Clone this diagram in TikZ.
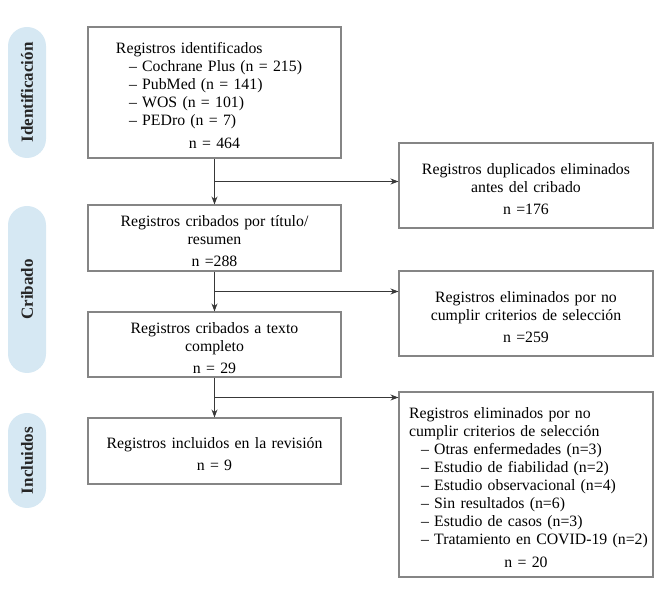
\documentclass[tikz,border=0pt]{standalone}
\usepackage{fontspec}
\setmainfont{Liberation Serif}
\usetikzlibrary{arrows.meta,calc}

\definecolor{pillblue}{HTML}{D6E8F3}
\definecolor{boxgray}{HTML}{858585}
\definecolor{linegray}{HTML}{383838}

\begin{document}
\begin{tikzpicture}[
        x=1pt, y=1pt,
        font=\fontsize{15.8}{18}\selectfont,
        % Cajas del diagrama
        box/.style={
            draw=boxgray,
            line width=1.1pt,
            inner xsep=0pt, inner ysep=0pt,
            text width=253pt,
            align=center,
            execute at begin node={\rule{0pt}{18pt}}
        },
        % Etiquetas laterales de fase
        pill/.style={
            fill=pillblue,
            rounded corners=19pt,
            minimum height=38pt,
            inner sep=0pt,
            rotate=90,
            text=black!85,
            font=\fontsize{17}{18}\selectfont\bfseries
        },
        % Flechas
        flecha/.style={
            draw=linegray,
            line width=0.9pt,
            -{Stealth[length=8pt,width=6pt]}
        }
    ]
        \useasboundingbox (0,0) rectangle (670,591);

        % Fases
        \node[pill, minimum width=131pt] (fase1) at (27,498.5) {Identificación};
        \node[pill, minimum width=167pt] (fase2) at (27,301.5) {Cribado};
        \node[pill, minimum width=95pt]  (fase3) at (27,130.5) {Incluidos};

        % Columna principal
        \node[box, align=left, minimum height=131pt] (ident) at (214.5,498.5) {%
            \hspace*{28pt}Registros identificados\\
            \hspace*{41pt}– Cochrane Plus (n = 215)\\
            \hspace*{41pt}– PubMed (n = 141)\\
            \hspace*{41pt}– WOS (n = 101)\\
            \hspace*{41pt}– PEDro (n = 7)\par
            \vspace{5pt}\centering n = 464\par};
        \node[box, minimum height=66pt] (criba) at (214.5,353) {Registros cribados por título/\\resumen\\[4pt]n =288};
        \node[box, minimum height=65pt] (texto) at (214.5,246.5) {Registros cribados a texto\\completo\\[4pt]n = 29};
        \node[box, minimum height=66pt] (incl) at (214.5,140) {Registros incluidos en la revisión\\[4pt]n = 9};

        % Columna de registros eliminados
        \node[box, text width=254pt, minimum height=85pt] (dupl) at (526,405.5) {Registros duplicados eliminados\\antes del cribado\\[4pt]n =176};
        \node[box, text width=254pt, minimum height=85pt] (elim1) at (526,277.5) {Registros eliminados por no\\cumplir criterios de selección\\[4pt]n =259};
        \node[box, text width=254pt, align=left, minimum height=185pt] (elim2) at (526,106.5) {%
            \hspace*{10pt}Registros eliminados por no\\
            \hspace*{10pt}cumplir criterios de selección\\
            \hspace*{22pt}– Otras enfermedades (n=3)\\
            \hspace*{22pt}– Estudio de fiabilidad (n=2)\\
            \hspace*{22pt}– Estudio observacional (n=4)\\
            \hspace*{22pt}– Sin resultados (n=6)\\
            \hspace*{22pt}– Estudio de casos (n=3)\\
            \hspace*{22pt}– Tratamiento en COVID-19 (n=2)\par
            \vspace{5pt}\centering n = 20\par};

        % Flujo vertical
        \draw[flecha] (ident) -- (criba);
        \draw[flecha] (criba) -- (texto);
        \draw[flecha] (texto) -- (incl);

        % Ramas hacia la derecha
        \coordinate (r1) at ($(ident.south)!0.5!(criba.north)$);
        \coordinate (r2) at ($(criba.south)!0.5!(texto.north)$);
        \coordinate (r3) at ($(texto.south)!0.5!(incl.north)$);
        \draw[flecha] (r1) -- (r1 -| dupl.west);
        \draw[flecha] (r2) -- (r2 -| elim1.west);
        \draw[flecha] (r3) -- (r3 -| elim2.west);

    \end{tikzpicture}
\end{document}
